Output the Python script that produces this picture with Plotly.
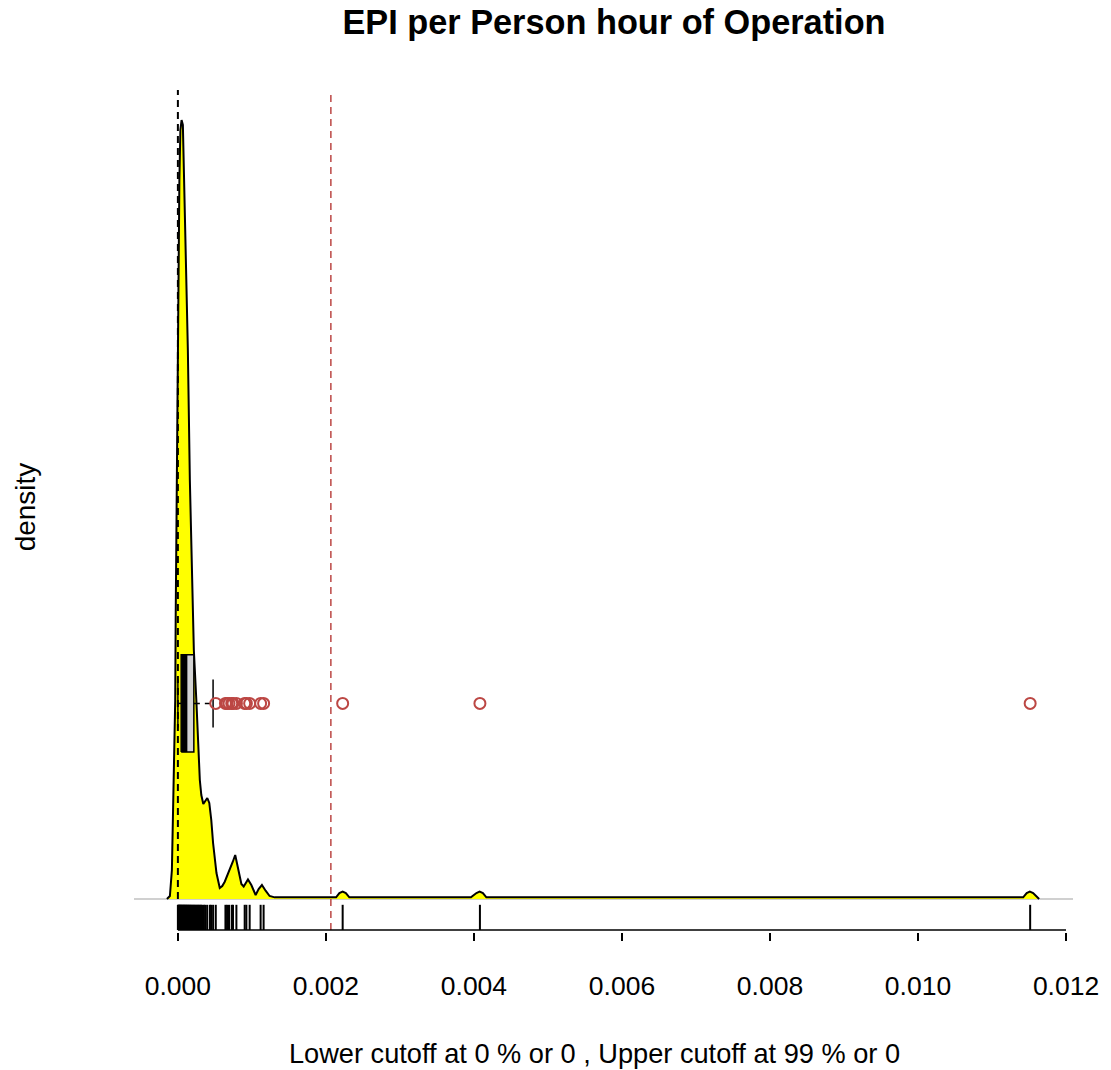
import plotly.graph_objects as go

# Kernel density estimate of EPI per person hour of operation
density_x = [
    -0.000148, -0.000108, -0.000081, -0.000061, -0.000047, -0.000036, -0.000030,
    -0.0000175, -0.0000067, 0.000004, 0.0000202, 0.0000337, 0.0000498, 0.0000673,
    0.0000808, 0.000097, 0.0001145, 0.0001347, 0.0001616, 0.0001886, 0.0002155,
    0.0002492, 0.0002761, 0.0002963, 0.0003165, 0.0003273, 0.0003434, 0.00037,
    0.0003973, 0.0004242, 0.0004512, 0.0004754, 0.0005212, 0.0005657, 0.0005993,
    0.000633, 0.0007003, 0.0007407, 0.0007744, 0.0008121, 0.0008579, 0.0008889,
    0.0009468, 0.0009926, 0.0010505, 0.0010909, 0.0011354, 0.0011852, 0.0012391,
    0.0013064, 0.0021374, 0.0021818, 0.0022263, 0.0022694, 0.0023165, 0.0039596,
    0.0040337, 0.0040768, 0.0041212, 0.004168, 0.0114209, 0.011468, 0.011511,
    0.0115556, 0.0116162, 0.0116364,
]
density_y = [
    0.0, 15.6, 150.8, 514.8, 722.8, 1034.8, 1450.8,
    2074.8, 2594.8, 3218.8, 3738.8, 3998.8, 4050.8, 4024.8,
    3790.8, 3530.8, 3218.8, 2854.8, 2178.8, 1658.8, 1294.8,
    1034.8, 774.8, 618.8, 540.8, 514.8, 494.0, 509.6,
    525.2, 499.2, 410.8, 291.2, 135.2, 57.2, 67.6,
    90.0, 150.8, 192.4, 228.8, 168.0, 78.0, 65.0,
    101.4, 72.8, 20.8, 52.0, 72.8, 43.2, 15.6,
    8.5, 8.5, 31.0, 38.0, 31.0, 8.5, 8.5,
    31.0, 38.0, 31.0, 8.5, 8.5, 31.0, 38.0,
    31.0, 8.5, 0.0,
]

# Observed values (rug)
rug_values = [
    0.0, 0.0000067, 0.0000135, 0.0000215, 0.0000269, 0.0000337, 0.0000431,
    0.0000498, 0.0000579, 0.0000646, 0.0000727, 0.0000808, 0.0000875, 0.0000956,
    0.0001051, 0.0001118, 0.0001212, 0.0001293, 0.0001374, 0.0001481, 0.0001562,
    0.0001657, 0.0001751, 0.0001859, 0.0001953, 0.0002074, 0.0002182, 0.000229,
    0.0002424, 0.0002532, 0.0002667, 0.0002774, 0.0002896, 0.000303, 0.0003138,
    0.00033, 0.0003502, 0.0003677, 0.0003946, 0.000431, 0.0004485, 0.0004754,
    0.0005118, 0.0006424, 0.000664, 0.0006909, 0.0007273, 0.0007448, 0.0007906,
    0.0009024, 0.0009253, 0.0009697, 0.0011178, 0.0011582, 0.0022263, 0.0040808,
    0.0115152,
]

# Box plot summary: lower whisker, Q1, median, Q3, upper whisker
box_stats = [0.0, 0.0000444, 0.0000875, 0.0002155, 0.0004754]

lower_cutoff = 0.0
upper_cutoff = 0.002067

x_ticks = [0.0, 0.002, 0.004, 0.006, 0.008, 0.010, 0.012]
x_tick_labels = ["0.000", "0.002", "0.004", "0.006", "0.008", "0.010", "0.012"]

outliers = [v for v in rug_values if v > box_stats[4]]

# ---- layout constants ----
W, H = 1111, 1070
PLOT_L, PLOT_R, PLOT_T, PLOT_B = 134, 1076, 90, 932
X_RANGE = [-0.000593, 0.012094]
AXIS_Y = -161.2
Y_RANGE = [-171.6, 4206.8]
RUG_TOP = AXIS_Y + 0.03 * (Y_RANGE[1] - AXIS_Y)
BOX_Y = 1017.0
BOX_HALF = 253.0
STAPLE_HALF = 125.0
RED = "#BC4744"
FONT = "Liberation Sans, Arial, sans-serif"


def paper_x(px):
    return (px - PLOT_L) / (PLOT_R - PLOT_L)


def paper_y(py):
    return (PLOT_B - py) / (PLOT_B - PLOT_T)


fig = go.Figure()

# density curve
fig.add_trace(go.Scatter(
    x=density_x, y=density_y, mode="lines",
    fill="tozeroy", fillcolor="#FFFF00",
    line=dict(color="black", width=2),
    hoverinfo="skip",
))

# rug
rx, ry = [], []
for v in rug_values:
    rx += [v, v, None]
    ry += [AXIS_Y, RUG_TOP, None]
fig.add_trace(go.Scatter(x=rx, y=ry, mode="lines",
                         line=dict(color="black", width=2), hoverinfo="skip"))

# cutoff lines
fig.add_trace(go.Scatter(x=[lower_cutoff, lower_cutoff], y=[0, Y_RANGE[1]], mode="lines",
                         line=dict(color="black", width=2, dash="7px,5px"), hoverinfo="skip"))
fig.add_trace(go.Scatter(x=[upper_cutoff, upper_cutoff], y=[AXIS_Y, Y_RANGE[1]], mode="lines",
                         line=dict(color=RED, width=1.5, dash="7px,5px"), hoverinfo="skip"))

# box plot
lo, q1, med, q3, hi = box_stats
fig.add_trace(go.Scatter(x=[q3, hi], y=[BOX_Y, BOX_Y], mode="lines",
                         line=dict(color="black", width=1.5, dash="6px,5px"), hoverinfo="skip"))
fig.add_trace(go.Scatter(x=[lo, q1], y=[BOX_Y, BOX_Y], mode="lines",
                         line=dict(color="black", width=1.5, dash="6px,5px"), hoverinfo="skip"))
for w in (lo, hi):
    fig.add_trace(go.Scatter(x=[w, w], y=[BOX_Y - STAPLE_HALF, BOX_Y + STAPLE_HALF], mode="lines",
                             line=dict(color="black", width=1.5), hoverinfo="skip"))
fig.add_trace(go.Scatter(
    x=[q1, q3, q3, q1, q1],
    y=[BOX_Y - BOX_HALF, BOX_Y - BOX_HALF, BOX_Y + BOX_HALF, BOX_Y + BOX_HALF, BOX_Y - BOX_HALF],
    mode="lines", fill="toself", fillcolor="#D3D3D3",
    line=dict(color="black", width=1.5), hoverinfo="skip"))
fig.add_trace(go.Scatter(x=[med, med], y=[BOX_Y - BOX_HALF, BOX_Y + BOX_HALF], mode="lines",
                         line=dict(color="black", width=6), hoverinfo="skip"))

# outliers
fig.add_trace(go.Scatter(
    x=outliers, y=[BOX_Y] * len(outliers), mode="markers",
    marker=dict(symbol="circle-open", size=11, color=RED, line=dict(width=2, color=RED)),
    hoverinfo="skip"))

# x axis line between first and last tick
fig.add_trace(go.Scatter(x=[x_ticks[0], x_ticks[-1]], y=[AXIS_Y, AXIS_Y], mode="lines",
                         line=dict(color="black", width=1.5), hoverinfo="skip"))

fig.update_layout(
    width=W, height=H,
    margin=dict(l=PLOT_L, r=W - PLOT_R, t=PLOT_T, b=H - PLOT_B),
    paper_bgcolor="white", plot_bgcolor="white",
    showlegend=False,
    font=dict(family=FONT, color="black", size=26),
    title=dict(text="<b>EPI per Person hour of Operation</b>",
               font=dict(family=FONT, size=34.3, color="black"),
               x=614 / W, xref="container", xanchor="center",
               y=1 - 22 / H, yref="container", yanchor="middle"),
    xaxis=dict(range=X_RANGE, showgrid=False, zeroline=False, showline=False,
               tickmode="array", tickvals=x_ticks, ticktext=x_tick_labels,
               ticks="outside", ticklen=8, tickwidth=1.5, tickcolor="black",
               tickfont=dict(family=FONT, size=26.5, color="black"),
               ticklabelstandoff=22),
    yaxis=dict(range=Y_RANGE, showgrid=False, showline=False, showticklabels=False,
               ticks="", zeroline=True, zerolinecolor="#D0D0D0", zerolinewidth=1.5),
    annotations=[
        dict(text="Lower cutoff at 0 % or 0 , Upper cutoff at 99 % or 0",
             x=paper_x(596), y=paper_y(1053), xref="paper", yref="paper",
             showarrow=False, font=dict(family=FONT, size=27.2, color="black"),
             xanchor="center", yanchor="middle"),
        dict(text="density", textangle=-90,
             x=paper_x(25), y=paper_y(507), xref="paper", yref="paper",
             showarrow=False, font=dict(family=FONT, size=28, color="black"),
             xanchor="center", yanchor="middle"),
    ],
)

fig.write_html("out.html")
